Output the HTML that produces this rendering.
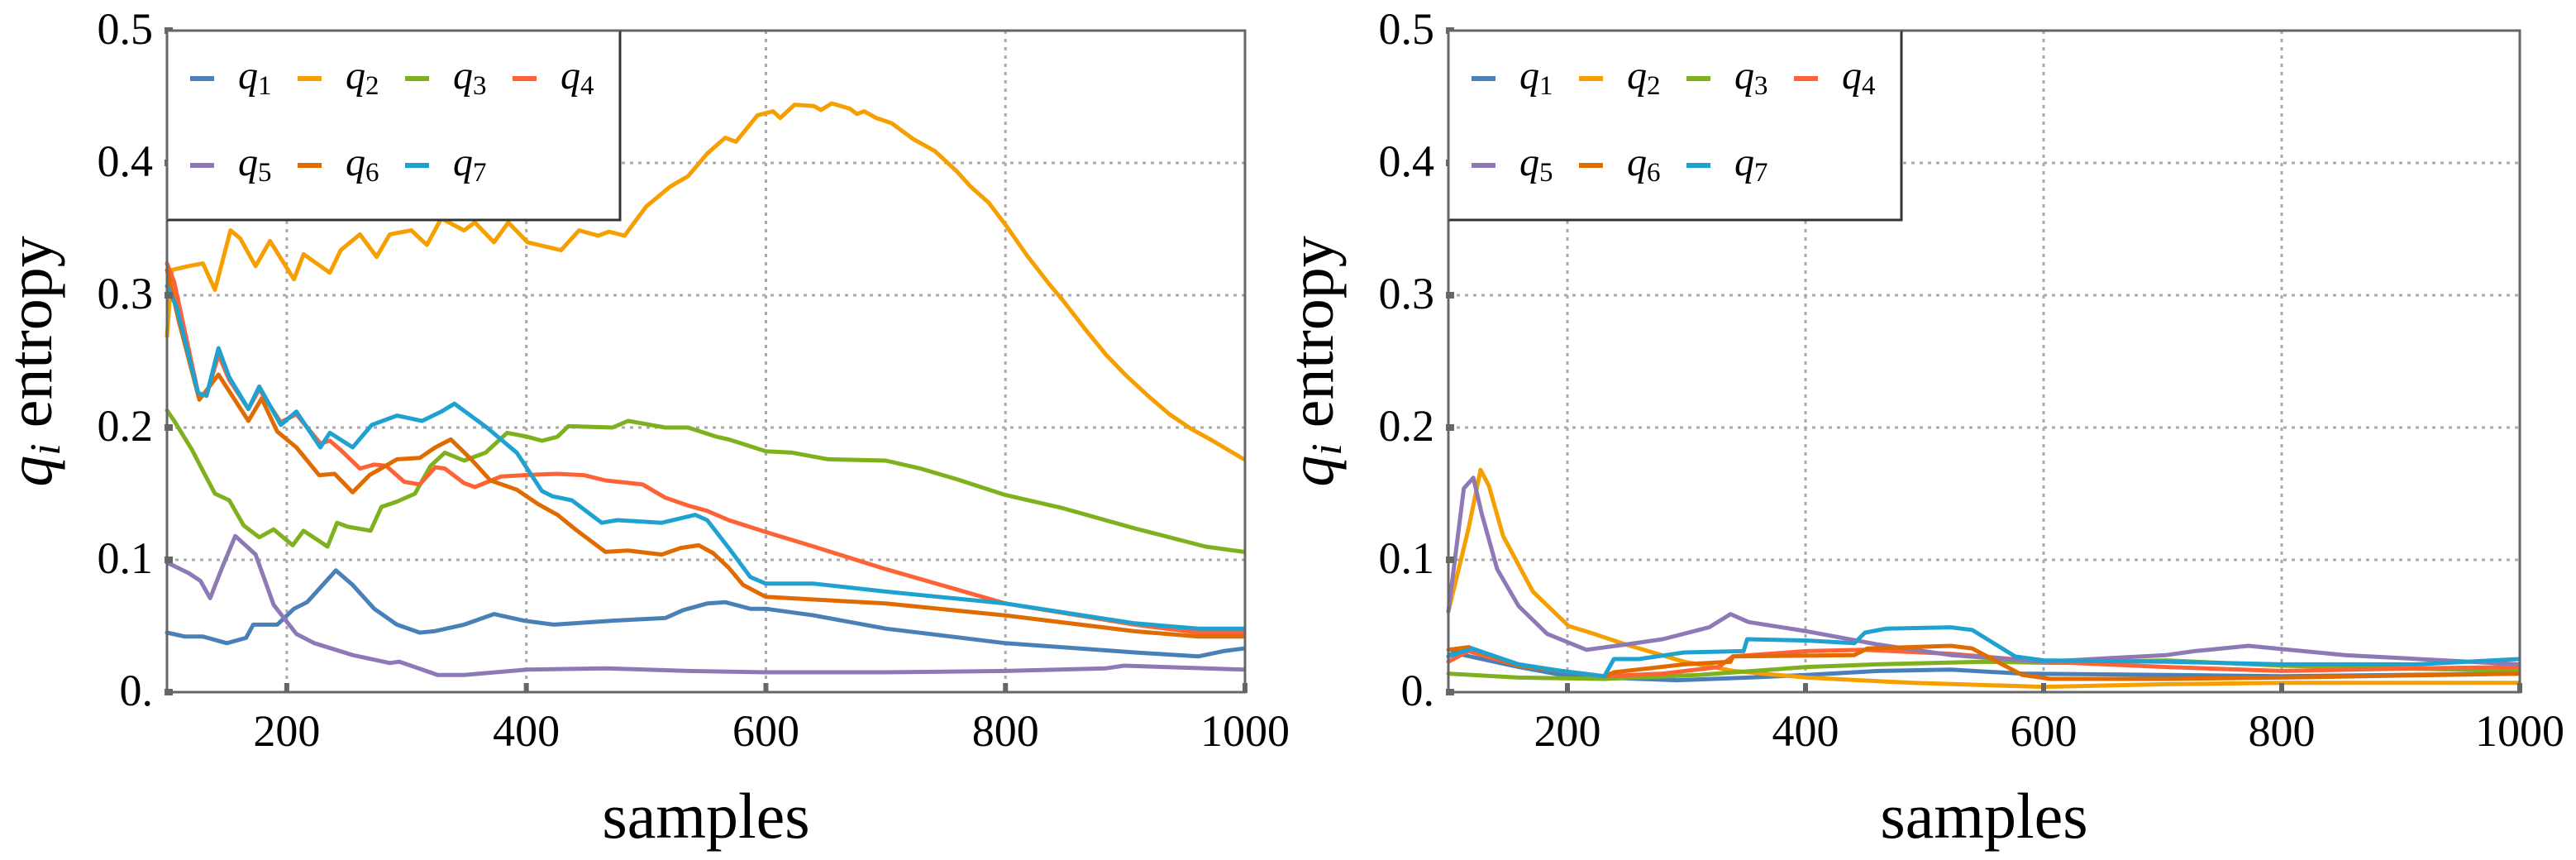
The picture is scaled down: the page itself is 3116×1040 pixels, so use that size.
<!DOCTYPE html>
<html><head><meta charset="utf-8"><style>
html,body{margin:0;padding:0;background:#fff;}
svg{display:block;font-family:"Liberation Serif",serif;}
</style></head><body>
<svg id="chart" width="3116" height="1040" viewBox="0 0 3116 1040" xmlns="http://www.w3.org/2000/svg"></svg>
<script>
// ---- data: left panel ----
const leftQ1Samples=[100,115,130,150,166,172,192,206,217,241,255,273,292,311,323,348,373,398,423,472,516,531,551,566,587,600,640,700,800,908,961,982,999];
const leftQ1Values=[0.045,0.042,0.042,0.037,0.041,0.051,0.051,0.063,0.068,0.092,0.081,0.063,0.051,0.045,0.046,0.051,0.059,0.054,0.051,0.054,0.056,0.062,0.067,0.068,0.063,0.063,0.058,0.048,0.037,0.030,0.027,0.031,0.033];
const leftQ2Samples=[100,104,118,130,140,153,161,174,186,206,214,236,245,261,275,286,304,317,329,348,357,373,385,401,429,444,460,469,482,500,520,535,551,566,575,593,606,612,624,640,646,655,670,676,682,692,705,723,741,759,771,786,801,818,836,848,866,884,901,919,937,955,973,999];
const leftQ2Values=[0.269,0.319,0.322,0.324,0.304,0.349,0.343,0.322,0.341,0.312,0.331,0.317,0.334,0.346,0.329,0.346,0.349,0.338,0.358,0.349,0.355,0.340,0.355,0.340,0.334,0.349,0.345,0.348,0.345,0.367,0.382,0.390,0.407,0.419,0.416,0.436,0.439,0.434,0.444,0.443,0.440,0.445,0.441,0.437,0.439,0.434,0.430,0.418,0.409,0.394,0.382,0.370,0.352,0.330,0.309,0.296,0.275,0.255,0.239,0.224,0.210,0.199,0.190,0.176];
const leftQ3Samples=[100,106,121,129,140,152,164,177,189,205,214,234,242,251,270,279,292,307,320,332,348,366,384,401,413,426,435,472,485,516,535,559,569,600,622,652,700,729,759,800,848,907,967,999];
const leftQ3Values=[0.213,0.205,0.183,0.169,0.150,0.145,0.126,0.117,0.123,0.111,0.122,0.110,0.128,0.125,0.122,0.140,0.144,0.150,0.171,0.181,0.175,0.181,0.196,0.193,0.190,0.193,0.201,0.200,0.205,0.200,0.200,0.193,0.191,0.182,0.181,0.176,0.175,0.169,0.161,0.149,0.139,0.124,0.110,0.106];
const leftQ4Samples=[100,106,126,133,143,152,168,177,195,208,228,236,245,261,273,283,298,311,324,332,348,357,379,398,426,448,466,497,516,535,551,569,600,640,700,800,908,961,999];
const leftQ4Values=[0.324,0.310,0.226,0.224,0.255,0.236,0.214,0.229,0.204,0.210,0.188,0.190,0.183,0.169,0.172,0.171,0.159,0.157,0.170,0.169,0.158,0.155,0.163,0.164,0.165,0.164,0.160,0.157,0.147,0.141,0.137,0.130,0.121,0.110,0.093,0.067,0.051,0.045,0.045];
const leftQ5Samples=[100,118,128,136,146,157,174,189,208,223,255,286,294,326,348,400,466,535,600,640,700,800,884,899,999];
const leftQ5Values=[0.098,0.090,0.084,0.071,0.094,0.118,0.104,0.066,0.044,0.037,0.028,0.022,0.023,0.013,0.013,0.017,0.018,0.016,0.015,0.015,0.015,0.016,0.018,0.020,0.017];
const leftQ6Samples=[100,110,127,143,168,179,192,208,227,240,255,269,292,311,324,337,354,370,392,410,426,441,466,485,513,529,544,556,569,581,600,640,700,800,908,961,999];
const leftQ6Values=[0.319,0.280,0.221,0.240,0.205,0.222,0.197,0.185,0.164,0.165,0.151,0.164,0.176,0.177,0.185,0.191,0.176,0.160,0.153,0.142,0.134,0.123,0.106,0.107,0.104,0.109,0.111,0.105,0.094,0.081,0.072,0.070,0.067,0.058,0.046,0.042,0.042];
const leftQ7Samples=[100,108,126,133,143,152,168,177,195,208,228,236,255,271,292,313,329,340,367,392,413,422,438,463,476,513,541,551,569,587,600,640,700,800,908,961,999];
const leftQ7Values=[0.307,0.291,0.226,0.224,0.260,0.238,0.214,0.231,0.202,0.212,0.185,0.196,0.185,0.202,0.209,0.205,0.212,0.218,0.200,0.181,0.152,0.148,0.145,0.128,0.130,0.128,0.134,0.130,0.109,0.087,0.082,0.082,0.076,0.067,0.052,0.048,0.048];
// ---- data: right panel ----
const rightQ1Samples=[100,106,113,159,195,231,292,352,401,461,522,582,703,800,999];
const rightQ1Values=[0.027,0.031,0.028,0.019,0.013,0.011,0.009,0.011,0.013,0.016,0.017,0.014,0.013,0.012,0.014];
const rightQ2Samples=[100,117,127,134,146,171,201,219,249,298,340,401,490,600,703,800,999];
const rightQ2Values=[0.061,0.124,0.168,0.156,0.118,0.076,0.050,0.045,0.036,0.023,0.016,0.011,0.007,0.004,0.006,0.007,0.007];
const rightQ3Samples=[100,159,231,310,401,461,550,612,703,800,999];
const rightQ3Values=[0.014,0.011,0.010,0.013,0.019,0.021,0.023,0.022,0.024,0.020,0.016];
const rightQ4Samples=[100,117,159,231,280,327,339,401,449,522,600,703,800,914,999];
const rightQ4Values=[0.023,0.031,0.020,0.012,0.014,0.019,0.027,0.031,0.032,0.029,0.023,0.019,0.016,0.018,0.019];
const rightQ5Samples=[100,113,121,128,141,159,183,216,249,280,319,337,352,401,461,522,600,703,727,772,853,999];
const rightQ5Values=[0.061,0.154,0.162,0.135,0.093,0.065,0.044,0.032,0.036,0.040,0.049,0.059,0.053,0.046,0.036,0.028,0.023,0.028,0.031,0.035,0.028,0.021];
const rightQ6Samples=[100,117,159,231,239,298,337,339,441,452,522,540,582,606,703,800,999];
const rightQ6Values=[0.032,0.034,0.020,0.012,0.015,0.021,0.023,0.027,0.028,0.033,0.035,0.033,0.013,0.010,0.010,0.011,0.014];
const rightQ7Samples=[100,120,159,195,231,239,260,298,348,351,401,441,450,468,522,540,576,600,703,800,914,999];
const rightQ7Values=[0.027,0.033,0.021,0.016,0.012,0.025,0.025,0.030,0.031,0.040,0.039,0.037,0.045,0.048,0.049,0.047,0.027,0.024,0.023,0.021,0.021,0.025];
const xTickLabels=[200,400,600,800,1000];
const yTickLabels=["0.","0.1","0.2","0.3","0.4","0.5"];
const yTickValues=[0,0.1,0.2,0.3,0.4,0.5];
const seriesNames=["q1","q2","q3","q4","q5","q6","q7"];
const seriesColors=["#4a80b8","#f5a000","#7fb11f","#ff6235","#8e79b7","#e06b00","#1fa2d0"];

const NS="http://www.w3.org/2000/svg";
const svg=document.getElementById('chart');
function mk(tag,attrs,parent){const e=document.createElementNS(NS,tag);for(const k in attrs)e.setAttribute(k,attrs[k]);(parent||svg).appendChild(e);return e;}
const yScale=v=>837-1600*v;

function panel(pid,left,right,seriesX,seriesY,ylabX){
  const xScale=s=>left+(s-100)*(right-left)/900;
  const g=mk('g',{});
  
  
  // grid
  yTickValues.forEach(v=>{ if(v>0&&v<0.5){const l=mk('line',{x1:left,x2:right,y1:yScale(v),y2:yScale(v),stroke:'#aaa','stroke-width':3,'stroke-dasharray':'4 6'},g);
    
    }});
  xTickLabels.forEach(s=>{ if(s<1000){const l=mk('line',{x1:xScale(s),x2:xScale(s),y1:37,y2:837,stroke:'#aaa','stroke-width':3,'stroke-dasharray':'4 6'},g);
    
    }});
  // series
  for(let i=0;i<7;i++){
    const xs=seriesX[i],ys=seriesY[i];
    let d='';
    for(let j=0;j<xs.length;j++)d+=(j?'L':'M')+xScale(xs[j]).toFixed(1)+' '+yScale(ys[j]).toFixed(1);
    const p=mk('path',{d:d,fill:'none',stroke:seriesColors[i],'stroke-width':5,'stroke-linejoin':'round','stroke-linecap':'round'},g);
    
    
  }
  // frame
  const fr=mk('rect',{x:left,y:37,width:right-left,height:800,fill:'none',stroke:'#666','stroke-width':3},g);
  
  
  // y ticks + labels
  yTickValues.forEach((v,i)=>{
    mk('rect',{x:left-3,y:yScale(v)-4,width:10,height:8,fill:'#666'},g);
    const t=mk('text',{x:left-17,y:yScale(v)+16,'text-anchor':'end','font-size':54,fill:'#000'},g);
    t.textContent=yTickLabels[i];
    
    
  });
  // x ticks + labels
  xTickLabels.forEach(s=>{
    mk('rect',{x:xScale(s)-3,y:826,width:6,height:12,fill:'#666'},g);
    const t=mk('text',{x:xScale(s),y:902,'text-anchor':'middle','font-size':54,fill:'#000'},g);
    t.textContent=s;
    
    
  });
  // axis titles
  const xt=mk('text',{x:(left+right)/2,y:1013,'text-anchor':'middle','font-size':78,fill:'#000'},g);
  xt.textContent='samples';
  
  
  const yt=mk('text',{transform:'translate('+ylabX+',437) rotate(-90)','text-anchor':'middle','font-size':76,fill:'#000'},g);
  
  
  const q=mk('tspan',{'font-style':'italic'},yt);q.textContent='q';
  const sub=mk('tspan',{'font-style':'italic','font-size':52,dy:10},yt);sub.textContent='i';
  const rest=mk('tspan',{dy:-10},yt);rest.textContent=' entropy';
  // legend
  const lg=mk('g',{},g);
  
  
  mk('rect',{x:left,y:37,width:548,height:229,fill:'#fff',stroke:'none'},lg);
  mk('path',{d:'M'+left+' 266 H'+(left+548)+' V37',fill:'none',stroke:'#333','stroke-width':3},lg);
  mk('line',{x1:left,x2:left,y1:37,y2:266,stroke:'#666','stroke-width':3},lg);
  mk('line',{x1:left,x2:left+548,y1:37,y2:37,stroke:'#666','stroke-width':3},lg);
  for(let i=0;i<7;i++){
    const col=i%4,row=Math.floor(i/4);
    const lx=left+28+col*130, ly=95+row*105;
    const e=mk('g',{},lg);
    
    
    mk('rect',{x:lx,y:ly-3,width:29,height:6,fill:seriesColors[i]},e);
    const t=mk('text',{x:lx+58,y:ly+12,'font-size':48,fill:'#000'},e);
    const a=mk('tspan',{'font-style':'italic'},t);a.textContent='q';
    const b=mk('tspan',{'font-size':33,dy:7},t);b.textContent=String(i+1);
  }
}
panel('left',202,1506,
  [leftQ1Samples,leftQ2Samples,leftQ3Samples,leftQ4Samples,leftQ5Samples,leftQ6Samples,leftQ7Samples],
  [leftQ1Values,leftQ2Values,leftQ3Values,leftQ4Values,leftQ5Values,leftQ6Values,leftQ7Values],62);
panel('right',1752,3048,
  [rightQ1Samples,rightQ2Samples,rightQ3Samples,rightQ4Samples,rightQ5Samples,rightQ6Samples,rightQ7Samples],
  [rightQ1Values,rightQ2Values,rightQ3Values,rightQ4Values,rightQ5Values,rightQ6Values,rightQ7Values],1612);
</script>
</body></html>
